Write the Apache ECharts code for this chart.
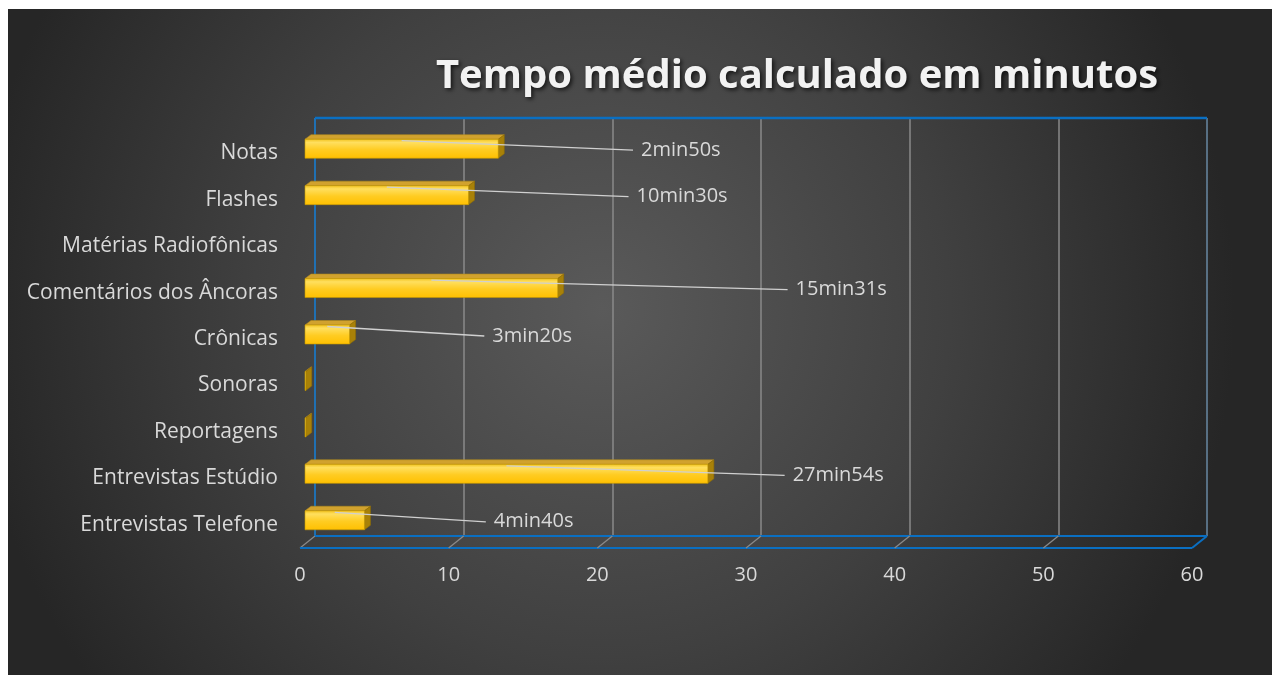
<!DOCTYPE html>
<html>
<head>
<meta charset="utf-8">
<script src="https://cdn.jsdelivr.net/npm/echarts@6/dist/echarts.min.js"></script>
<style>
html,body{margin:0;padding:0;background:#fff;}
#chart{width:1272px;height:675px;}
</style>
</head>
<body>
<div id="chart"></div>
<script>
// ---- data (top to bottom) ----
const categories = ['Notas', 'Flashes', 'Matérias Radiofônicas', 'Comentários dos Âncoras', 'Crônicas', 'Sonoras', 'Reportagens', 'Entrevistas Estúdio', 'Entrevistas Telefone'];
const values = [13.0, 11.0, null, 17.0, 3.0, 0.05, 0.05, 27.1, 4.0];
const labelTexts = ['2min50s', '10min30s', '', '15min31s', '3min20s', '', '', '27min54s', '4min40s'];
// where each data label sits along the value axis (axis units)
const labelAt = [22.6, 22.3, null, 33.0, 12.6, null, null, 32.8, 12.7];
const xTicks = [0, 10, 20, 30, 40, 50, 60];
const titleText = 'Tempo médio calculado em minutos';

// ---- style constants ----
const FONT = '"Open Sans", sans-serif';
const FS = 20;
const TXT = '#d9d9d9';
const BLUE = '#0a6fc2';
const GRIDGRAY = '#8a8a8a';
const FLOOR_DX = -15, FLOOR_DY = 12;    // perspective of the floor depth
const BAR_DX = -10, BAR_DY = 7.5;       // bar front face relative to back wall
const BAR_H = 19, DEP_X = 6, DEP_Y = 4.5;

const chart = echarts.init(document.getElementById('chart'), null, {renderer: 'canvas'});

function barItem(params, api) {
  const i = params.dataIndex;
  const v = values[i];
  if (v == null) return null;
  const p0 = api.coord([0, i]);
  const p1 = api.coord([v, i]);
  const x0 = p0[0] + BAR_DX, x1 = p1[0] + BAR_DX;
  const yT = p0[1] + BAR_DY - BAR_H / 2, yB = yT + BAR_H;
  const children = [
    {type: 'polygon', shape: {points: [[x0, yT], [x1, yT], [x1 + DEP_X, yT - DEP_Y], [x0 + DEP_X, yT - DEP_Y]]},
     style: {fill: '#d1a22e', stroke: '#b08a1c', lineWidth: 0.6}},
    {type: 'polygon', shape: {points: [[x1, yT], [x1 + DEP_X, yT - DEP_Y], [x1 + DEP_X, yB - DEP_Y], [x1, yB]]},
     style: {fill: '#a88108', stroke: '#8f6d05', lineWidth: 0.6}},
    {type: 'rect', shape: {x: x0, y: yT, width: Math.max(x1 - x0, 0), height: BAR_H},
     style: {fill: new echarts.graphic.LinearGradient(0, 0, 0, 1, [
        {offset: 0, color: '#f2c21c'}, {offset: 0.18, color: '#ffdf5e'},
        {offset: 0.55, color: '#ffcc22'}, {offset: 1, color: '#ffc000'}]),
       stroke: '#c89a00', lineWidth: 0.6}}
  ];
  if (labelTexts[i]) {
    const lp = api.coord([labelAt[i], i]);
    const lx = lp[0] + BAR_DX;
    const ly = p0[1] + BAR_DY + 1.5;
    children.push({type: 'line', shape: {x1: (x0 + x1) / 2, y1: yT + 1.5, x2: lx - 8, y2: ly},
      style: {stroke: '#d0d0d0', lineWidth: 1.3}});
    children.push({type: 'text', x: lx, y: ly,
      style: {text: labelTexts[i], fill: TXT, font: FS + 'px ' + FONT, align: 'left', verticalAlign: 'middle'}});
  }
  return {type: 'group', children: children};
}

function floorItem(params, api) {
  const cs = params.coordSys;
  const v = xTicks[params.dataIndex];
  const bottom = cs.y + cs.height;
  const x = api.coord([v, 0])[0];
  const children = [
    {type: 'line', shape: {x1: x, y1: bottom, x2: x + FLOOR_DX, y2: bottom + FLOOR_DY},
     style: {stroke: v === 60 ? BLUE : GRIDGRAY, lineWidth: v === 60 ? 2 : 1.3}}
  ];
  if (params.dataIndex === 0) {
    children.push(
      {type: 'line', shape: {x1: cs.x, y1: cs.y, x2: cs.x + cs.width, y2: cs.y}, style: {stroke: BLUE, lineWidth: 2.4}},
      {type: 'line', shape: {x1: cs.x, y1: cs.y, x2: cs.x, y2: bottom}, style: {stroke: BLUE, lineWidth: 1.6}},
      {type: 'line', shape: {x1: cs.x + cs.width, y1: cs.y, x2: cs.x + cs.width, y2: bottom}, style: {stroke: BLUE, lineWidth: 0.8, opacity: 0.6}},
      {type: 'line', shape: {x1: cs.x, y1: bottom, x2: cs.x + cs.width, y2: bottom}, style: {stroke: BLUE, lineWidth: 2}},
      {type: 'line', shape: {x1: cs.x + FLOOR_DX, y1: bottom + FLOOR_DY, x2: cs.x + cs.width + FLOOR_DX, y2: bottom + FLOOR_DY}, style: {stroke: BLUE, lineWidth: 2.2}}
    );
  }
  return {type: 'group', children: children};
}

const option = {
  backgroundColor: '#ffffff',
  animation: false,
  graphic: [{
    type: 'rect', z: -100, silent: true,
    shape: {x: 8, y: 9, width: 1264, height: 666},
    style: {fill: new echarts.graphic.RadialGradient(0.47, 0.45, 0.95, [
      {offset: 0, color: '#5a5a5a'}, {offset: 0.55, color: '#404040'}, {offset: 1, color: '#262626'}])}
  }],
  title: {
    text: titleText, left: 792, top: 52, textAlign: 'center',
    textStyle: {color: '#f2f2f2', fontFamily: FONT, fontWeight: 'bold', fontSize: 40,
      textShadowColor: 'rgba(0,0,0,0.7)', textShadowBlur: 4, textShadowOffsetX: 2, textShadowOffsetY: 2}
  },
  grid: {left: 315, top: 118, right: 65, bottom: 139, containLabel: false},
  xAxis: {
    type: 'value', min: 0, max: 60, interval: 10,
    axisLine: {show: false}, axisTick: {show: false},
    splitLine: {show: true, lineStyle: {color: GRIDGRAY, width: 1.5}},
    axisLabel: {color: TXT, fontFamily: FONT, fontSize: FS, margin: 29, padding: [0, 30, 0, 0]}
  },
  yAxis: {
    type: 'category', data: categories, inverse: true,
    axisLine: {show: false}, axisTick: {show: false}, splitLine: {show: false},
    axisLabel: {color: TXT, fontFamily: FONT, fontSize: 21, margin: 37, verticalAlign: 'top', lineHeight: 24}
  },
  series: [
    {type: 'custom', name: 'floor', renderItem: floorItem, clip: false, z: 1,
     data: xTicks.map(v => [v, 0]), silent: true},
    {type: 'custom', name: 'Tempo médio', renderItem: barItem, clip: false, z: 3,
     data: categories.map((c, i) => [values[i] == null ? 0 : values[i], i])}
  ]
};
chart.setOption(option);
</script>
</body>
</html>
